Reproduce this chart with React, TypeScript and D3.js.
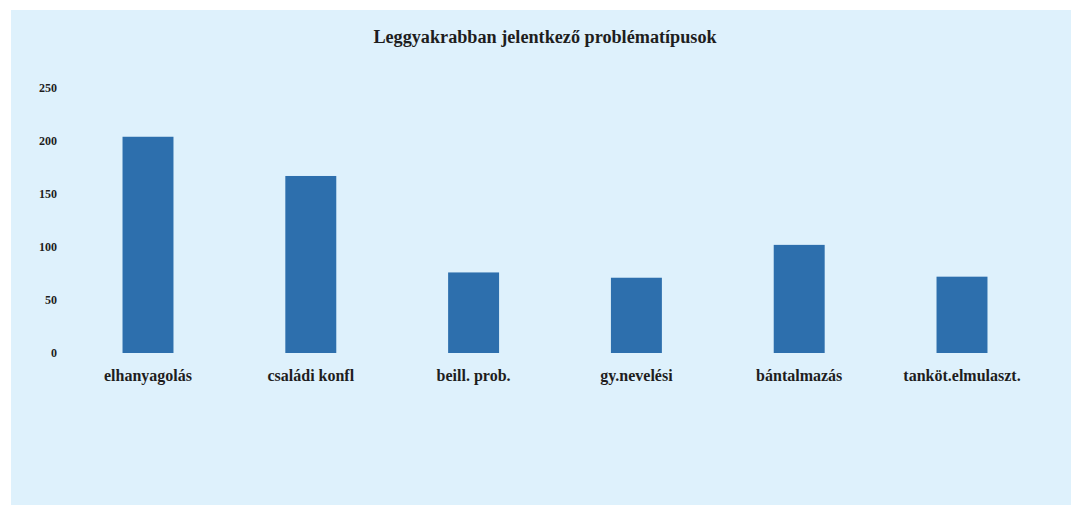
import React from "react";
import * as d3 from "d3";

const categories = ["elhanyagolás", "családi konfl", "beill. prob.", "gy.nevelési", "bántalmazás", "tanköt.elmulaszt."];
const values = [204, 167, 76, 71, 102, 72];
const yTicks = [0, 50, 100, 150, 200, 250];
const title = "Leggyakrabban jelentkező problématípusok";

const W = 1077;
const H = 508;
const font = "'Liberation Serif', 'DejaVu Serif', serif";

export default function App() {
  const y = d3.scaleLinear().domain([0, 250]).range([353, 88]);
  const x = d3
    .scaleBand<string>()
    .domain(categories)
    .range([66.6, 1043.4])
    .paddingInner(0.687)
    .paddingOuter(0.3435);

  return (
    <svg width={W} height={H} style={{ position: "absolute", left: 0, top: 0 }}>
      <rect x={0} y={0} width={W} height={H} fill="#ffffff" />
      <rect x={11} y={10} width={1060} height={495} fill="#def1fc" />
      <text x={545} y={43} textAnchor="middle" fontFamily={font} fontWeight="bold" fontSize={18.2} fill="#1e1e1e">
        {title}
      </text>
      {yTicks.map((t) => (
        <text key={t} x={57} y={y(t) + 4} textAnchor="end" fontFamily={font} fontWeight="bold" fontSize={12} fill="#1e1e1e">
          {t}
        </text>
      ))}
      {categories.map((c, i) => (
        <rect key={c} x={x(c)} y={y(values[i])} width={x.bandwidth()} height={y(0) - y(values[i])} fill="#2d6fad" />
      ))}
      {categories.map((c) => (
        <text key={c} x={(x(c) as number) + x.bandwidth() / 2} y={381} textAnchor="middle" fontFamily={font} fontWeight="bold" fontSize={16} fill="#1e1e1e">
          {c}
        </text>
      ))}
    </svg>
  );
}
